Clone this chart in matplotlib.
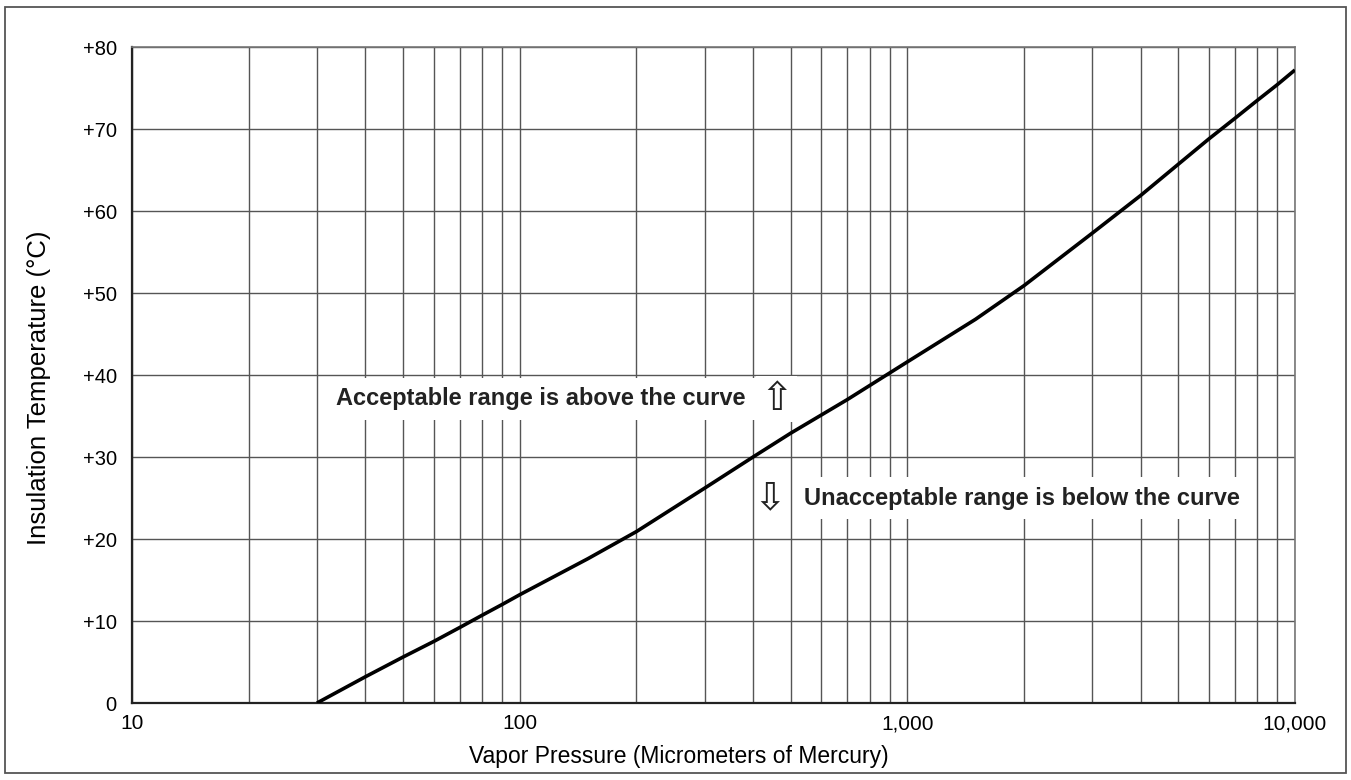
import matplotlib

matplotlib.use("Agg")
import matplotlib.pyplot as plt
from matplotlib.patches import Rectangle
from matplotlib.ticker import FixedLocator, NullFormatter

# vapor pressure (micrometers of mercury) vs insulation temperature (deg C)
pressure = [30, 40, 50, 60, 70, 80, 90, 100, 150, 200, 300, 400, 500, 700, 1000,
            1500, 2000, 3000, 4000, 5000, 6000, 7000, 8000, 9000, 10000]
temperature = [0, 3.2, 5.6, 7.5, 9.2, 10.7, 12.0, 13.2, 17.6, 20.9, 26.2, 30.0, 32.9,
               37.0, 41.6, 46.8, 50.9, 57.3, 61.9, 65.7, 68.8, 71.3, 73.5, 75.4, 77.2]

x_ticks = [10, 100, 1000, 10000]
x_tick_labels = ["10", "100", "1,000", "10,000"]
x_minor = [m * d for d in (10, 100, 1000) for m in range(2, 10)]
y_ticks = [0, 10, 20, 30, 40, 50, 60, 70, 80]
y_tick_labels = ["0", "+10", "+20", "+30", "+40", "+50", "+60", "+70", "+80"]

NARROW = ["Liberation Sans Narrow", "Liberation Sans", "DejaVu Sans"]
REGULAR = ["Liberation Sans", "DejaVu Sans"]
ARROWS = ["DejaVu Sans"]

fig = plt.figure(figsize=(13.51, 7.80), dpi=100)
ax = fig.add_axes([0.0977, 0.0987, 0.8608, 0.841])

ax.plot(pressure, temperature, color="black", lw=2.6, solid_capstyle="butt",
        solid_joinstyle="round", zorder=4)

ax.set_xscale("log")
ax.set_xlim(10, 10000)
ax.set_ylim(0, 80)

ax.xaxis.set_major_locator(FixedLocator(x_ticks))
ax.xaxis.set_minor_locator(FixedLocator(x_minor))
ax.xaxis.set_minor_formatter(NullFormatter())
ax.set_xticklabels(x_tick_labels, family=NARROW, fontsize=15)
ax.set_yticks(y_ticks)
ax.set_yticklabels(y_tick_labels, family=REGULAR, fontsize=14.5)
ax.tick_params(axis="both", which="both", length=0)
ax.tick_params(axis="x", pad=8)
ax.tick_params(axis="y", pad=11)

ax.grid(True, which="both", axis="x", color="#555555", lw=1.0)
ax.grid(True, which="major", axis="y", color="#555555", lw=1.0)
ax.set_axisbelow(True)

for side in ("top", "right"):
    ax.spines[side].set_color("#777777")
    ax.spines[side].set_linewidth(1.2)
for side in ("left", "bottom"):
    ax.spines[side].set_color("#222222")
    ax.spines[side].set_linewidth(1.6)

ax.set_xlabel("Vapor Pressure (Micrometers of Mercury)", family=NARROW, fontsize=16.5)
ax.xaxis.set_label_coords(0.47, -0.064)
ax.set_ylabel("Insulation Temperature (°C)", family=REGULAR, fontsize=18.5)
ax.yaxis.set_label_coords(-0.070, 0.48)

ax.text(33.6, 37.1, "Acceptable range is above the curve", family=NARROW,
        fontsize=17, fontweight="bold", color="#222222", va="center", ha="left",
        bbox=dict(facecolor="white", edgecolor="none", pad=7), zorder=5)
ax.text(460, 37.1, "\u21e7", family=ARROWS, fontsize=28, color="#222222",
        va="center", ha="center", bbox=dict(facecolor="white", edgecolor="none", pad=3),
        zorder=5)
ax.text(540, 25.0, "Unacceptable range is below the curve", family=NARROW,
        fontsize=17, fontweight="bold", color="#222222", va="center", ha="left",
        bbox=dict(facecolor="white", edgecolor="none", pad=7), zorder=5)
ax.text(441, 25.0, "\u21e9", family=ARROWS, fontsize=28, color="#222222",
        va="center", ha="center", zorder=5)

# outer frame round the whole figure
fig.patches.append(Rectangle((0.004, 0.009), 0.992, 0.982, transform=fig.transFigure,
                             fill=False, edgecolor="#555555", lw=1.3))

fig.savefig("out.png", dpi=100)
